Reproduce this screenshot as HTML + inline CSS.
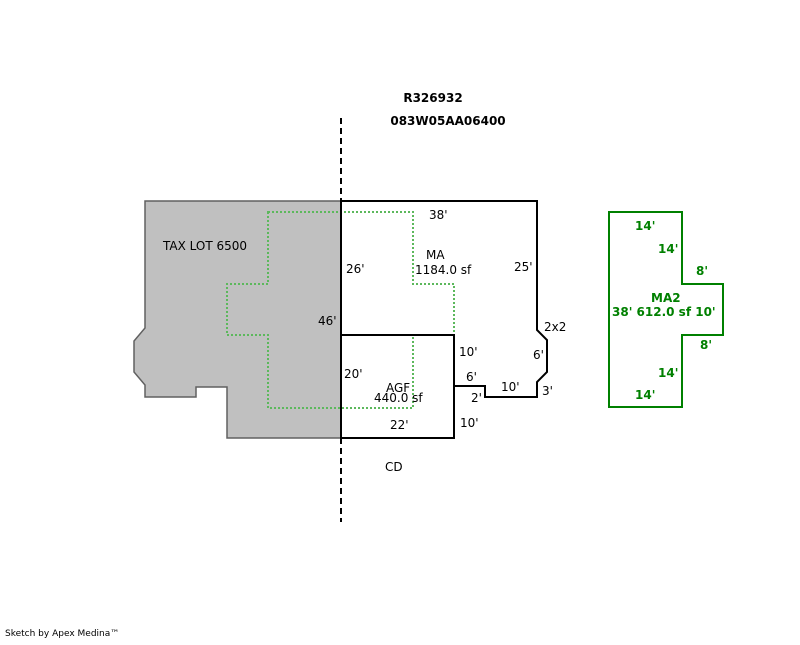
<!DOCTYPE html>
<html><head><style>
body{margin:0;background:#fff;}
svg text{font-family:"DejaVu Sans","Liberation Sans",sans-serif;font-size:12px;}
</style></head><body>
<svg width="800" height="640" xmlns="http://www.w3.org/2000/svg">
<polygon points="145,201 341,201 341,438 227,438 227,387 196,387 196,397 145,397 145,385 134,372 134,341 145,328" fill="#c0c0c0" stroke="#606060" stroke-width="1.5"/>
<polygon points="268,212 413,212 413,284 454,284 454,335 413,335 413,408 268,408 268,335 227,335 227,284 268,284" fill="none" stroke="#5cb85c" stroke-width="2" stroke-dasharray="2,2"/>
<polyline points="341,201 537,201 537,330 547,340 547,372 537,382 537,397 485,397 485,386 454,386" fill="none" stroke="#000" stroke-width="2"/>
<rect x="341" y="335" width="113" height="103" fill="none" stroke="#000" stroke-width="2"/>
<line x1="341" y1="201" x2="341" y2="438" stroke="#000" stroke-width="2"/>
<line x1="341" y1="118" x2="341" y2="522" stroke="#000" stroke-width="2" stroke-dasharray="6,4"/>
<polygon points="609,212 682,212 682,284 723,284 723,335 682,335 682,407 609,407" fill="none" stroke="#008000" stroke-width="2"/>
<text x="433" y="102" text-anchor="middle" font-weight="bold">R326932</text>
<text x="448" y="125" text-anchor="middle" font-weight="bold">083W05AA06400</text>
<text x="163" y="250">TAX LOT 6500</text>
<text x="429" y="219">38'</text>
<text x="426" y="259">MA</text>
<text x="415" y="274">1184.0 sf</text>
<text x="346" y="273">26'</text>
<text x="514" y="271">25'</text>
<text x="318" y="325">46'</text>
<text x="544" y="331">2x2</text>
<text x="459" y="356">10'</text>
<text x="533" y="359">6'</text>
<text x="344" y="378">20'</text>
<text x="466" y="381">6'</text>
<text x="386" y="392">AGF</text>
<text x="374" y="402">440.0 sf</text>
<text x="471" y="402">2'</text>
<text x="501" y="391">10'</text>
<text x="542" y="395">3'</text>
<text x="390" y="429">22'</text>
<text x="460" y="427">10'</text>
<text x="385" y="471">CD</text>
<g fill="#008000">
<text x="635" y="230" font-weight="bold">14'</text>
<text x="658" y="253" font-weight="bold">14'</text>
<text x="696" y="275" font-weight="bold">8'</text>
<text x="651" y="302" font-weight="bold">MA2</text>
<text x="612" y="316" font-weight="bold">38' 612.0 sf 10'</text>
<text x="700" y="349" font-weight="bold">8'</text>
<text x="658" y="377" font-weight="bold">14'</text>
<text x="635" y="399" font-weight="bold">14'</text>
</g>
<text x="5" y="636" style="font-size:9px">Sketch by Apex Medina™</text>
</svg>
</body></html>
